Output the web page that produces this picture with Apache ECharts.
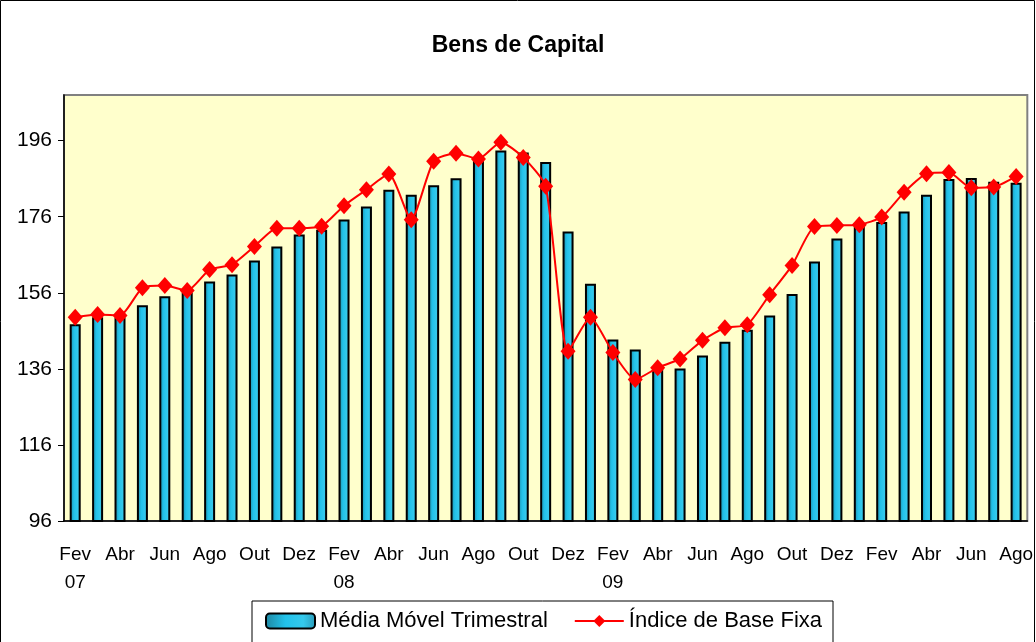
<!DOCTYPE html>
<html>
<head>
<meta charset="utf-8">
<script src="https://cdn.jsdelivr.net/npm/echarts@6/dist/echarts.min.js"></script>
<style>
  html, body { margin: 0; padding: 0; background: #fff; }
  #main { width: 1036px; height: 642px; }
</style>
</head>
<body>
<div id="main"></div>
<script>
// meses de Fev/07 a Ago/10
var categorias = [
  'Fev\n07', 'Mar', 'Abr', 'Mai', 'Jun', 'Jul', 'Ago', 'Set', 'Out', 'Nov', 'Dez', 'Jan',
  'Fev\n08', 'Mar', 'Abr', 'Mai', 'Jun', 'Jul', 'Ago', 'Set', 'Out', 'Nov', 'Dez', 'Jan',
  'Fev\n09', 'Mar', 'Abr', 'Mai', 'Jun', 'Jul', 'Ago', 'Set', 'Out', 'Nov', 'Dez', 'Jan',
  'Fev', 'Mar', 'Abr', 'Mai', 'Jun', 'Jul', 'Ago'
];

var mediaMovel = [
  147.7, 149.6, 149.5, 152.7, 155.1, 156.1, 159.0, 160.8, 164.5, 168.2,
  171.3, 172.6, 175.3, 178.7, 183.1, 181.8, 184.3, 186.1, 191.0, 193.4,
  192.9, 190.4, 172.1, 158.4, 143.7, 141.1, 136.3, 136.1, 139.5, 143.1,
  146.3, 150.0, 155.7, 164.2, 170.3, 173.7, 174.6, 177.4, 181.8, 185.9,
  186.2, 185.2, 184.9
];

var indiceBaseFixa = [
  149.6, 150.3, 150.0, 157.3, 157.9, 156.6, 162.1, 163.4, 168.2, 173.0,
  173.0, 173.5, 178.9, 183.1, 187.2, 175.2, 190.6, 192.7, 191.2, 195.6,
  191.6, 184.0, 140.6, 149.6, 140.3, 133.2, 136.3, 138.6, 143.5, 146.8,
  147.6, 155.5, 163.2, 173.4, 173.7, 173.9, 175.9, 182.4, 187.3, 187.6,
  183.6, 183.8, 186.6
];

var yMin = 96, yMax = 208, yPasso = 20;

var fonte = '"Liberation Sans", Arial, sans-serif';
var myChart = echarts.init(document.getElementById('main'));

var option = {
  backgroundColor: '#ffffff',
  animation: false,
  textStyle: { fontFamily: fonte, color: '#000' },
  title: {
    text: 'Bens de Capital',
    left: 'center',
    top: 29,
    textStyle: { fontFamily: fonte, fontSize: 23, fontWeight: 'bold', color: '#000' }
  },
  graphic: [{
    type: 'rect',
    shape: { x: 0.5, y: 0.5, width: 1034, height: 700 },
    style: { fill: 'none', stroke: '#000', lineWidth: 1 },
    silent: true
  }],
  legend: {
    top: 601,
    left: 252,
    padding: [9, 11, 14, 13],
    borderColor: '#000',
    borderWidth: 1,
    itemGap: 26,
    itemWidth: 49,
    itemHeight: 15,
    textStyle: { fontFamily: fonte, fontSize: 22, color: '#000' },
    data: ['Média Móvel Trimestral', 'Índice de Base Fixa']
  },
  grid: {
    left: 64,
    right: 7,
    top: 95,
    bottom: 121,
    show: true,
    backgroundColor: '#FFFFCC',
    borderColor: '#808080',
    borderWidth: 2
  },
  xAxis: {
    type: 'category',
    data: categorias,
    boundaryGap: true,
    axisLine: { lineStyle: { color: '#000', width: 1.5 } },
    axisTick: { interval: 0, length: 6, lineStyle: { color: '#000' } },
    axisLabel: {
      interval: 1,
      fontFamily: fonte,
      fontSize: 19,
      lineHeight: 28,
      margin: 20,
      color: '#000'
    }
  },
  yAxis: {
    type: 'value',
    min: yMin,
    max: yMax,
    interval: yPasso,
    axisLine: { show: true, lineStyle: { color: '#000', width: 1.5 } },
    axisTick: { show: true, length: 6, lineStyle: { color: '#000' } },
    splitLine: { show: false },
    axisLabel: {
      showMaxLabel: false,
      fontFamily: fonte,
      fontSize: 21,
      margin: 12,
      color: '#000'
    }
  },
  series: [
    {
      name: 'Média Móvel Trimestral',
      type: 'bar',
      data: mediaMovel,
      barWidth: 11,
      itemStyle: {
        color: new echarts.graphic.LinearGradient(0, 0, 1, 0, [
          { offset: 0, color: '#1f86a0' },
          { offset: 0.4, color: '#22c2ea' },
          { offset: 0.75, color: '#35c9ec' },
          { offset: 1, color: '#2a9ab8' }
        ]),
        borderColor: '#000',
        borderWidth: 2
      },
      z: 2
    },
    {
      name: 'Índice de Base Fixa',
      type: 'line',
      data: indiceBaseFixa,
      smooth: 0.2,
      showAllSymbol: true,
      symbol: 'diamond',
      symbolSize: [15, 17],
      lineStyle: { color: '#FF0000', width: 2 },
      itemStyle: { color: '#FF0000' },
      z: 3
    }
  ]
};

myChart.setOption(option);
</script>
</body>
</html>
